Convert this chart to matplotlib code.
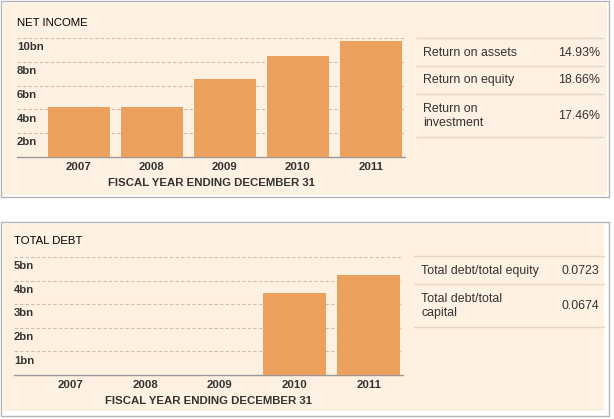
import numpy as np
import matplotlib
matplotlib.use('Agg')
import matplotlib.pyplot as plt
from matplotlib.patches import Rectangle
from matplotlib.lines import Line2D

plt.rcParams['font.family'] = ['Liberation Sans', 'DejaVu Sans']

years = ['2007', '2008', '2009', '2010', '2011']
net_income = [4.2, 4.2, 6.55, 8.5, 9.75]
total_debt = [0, 0, 0, 3.47, 4.24]
income_ticks = [2, 4, 6, 8, 10]
debt_ticks = [1, 2, 3, 4, 5]

income_rows = ['Return on assets', 'Return on equity', 'Return on\ninvestment']
income_vals = ['14.93%', '18.66%', '17.46%']
debt_rows = ['Total debt/total equity', 'Total debt/total\ncapital']
debt_vals = ['0.0723', '0.0674']

W, H = 614, 419
CREAM = '#fff1e2'
BAR = '#eca05e'
TXT = '#333333'

fig = plt.figure(figsize=(W / 100, H / 100), dpi=100)
fig.patch.set_facecolor('white')


def fx(x):
    return x / W


def fy(y):
    return 1 - y / H


def box(x0, y0, x1, y1, **kw):
    fig.add_artist(Rectangle((fx(x0), fy(y1)), fx(x1) - fx(x0), fy(y0) - fy(y1),
                             transform=fig.transFigure, zorder=-5, **kw))


def hline(x0, x1, y, color='#e3d7c7'):
    fig.add_artist(Line2D([fx(x0), fx(x1)], [fy(y), fy(y)], transform=fig.transFigure,
                          color=color, lw=1, zorder=-4))


def chart(top, base, left, right, values, ticks, title, title_xy, xlim, xlab_pad):
    ax = fig.add_axes([fx(left), fy(base), fx(right) - fx(left), fy(top) - fy(base)])
    ax.set_facecolor('none')
    x = np.arange(len(years))
    ax.bar(x, values, width=0.85, color=BAR, zorder=3)
    ax.set_ylim(0, ticks[-1])
    ax.set_xlim(*xlim)
    for t in ticks:
        ax.axhline(t, color='#c8c0b4', lw=0.8, ls=(0, (3, 2)), zorder=1)
        ax.annotate(f'{t}bn', xy=(0, t), xycoords=('axes fraction', 'data'),
                    xytext=(0, -3), textcoords='offset points', ha='left', va='top',
                    fontsize=8.2, fontweight='bold', color=TXT)
    for s in ['top', 'right', 'left']:
        ax.spines[s].set_visible(False)
    ax.spines['bottom'].set_color('#999999')
    ax.spines['bottom'].set_linewidth(1)
    ax.set_yticks([])
    ax.set_xticks(x, years)
    ax.tick_params(axis='x', length=0, pad=3.6, labelsize=8.2, labelcolor=TXT)
    for lab in ax.get_xticklabels():
        lab.set_fontweight('bold')
    ax.set_xlabel('FISCAL YEAR ENDING DECEMBER 31', fontsize=8.2, fontweight='bold',
                  color=TXT, labelpad=xlab_pad)
    fig.text(fx(title_xy[0]), fy(title_xy[1]), title, fontsize=8.2, color='black',
             ha='left', va='center')
    return ax


# panel 1
box(1, 1, 609, 197, facecolor='white', edgecolor='#b4b4b4', lw=1)
box(3, 3, 607, 195, facecolor=CREAM, edgecolor='none')
chart(38, 157, 17, 405, net_income, income_ticks, 'NET INCOME', (17, 23),
      (-0.85, 4.47), 4.2)

for yl in [38, 66, 94, 137]:
    hline(417, 603, yl)
for label, val, yc in zip(income_rows, income_vals, [53, 80, 116]):
    fig.text(fx(423), fy(yc), label, fontsize=8.9, color=TXT, ha='left', va='center',
             linespacing=1.15)
    fig.text(fx(600), fy(yc), val, fontsize=8.9, color=TXT, ha='right', va='center')

# panel 2
box(1, 222, 609, 416, facecolor='white', edgecolor='#b4b4b4', lw=1)
box(3, 224, 604, 411, facecolor=CREAM, edgecolor='none')
chart(257, 375, 14, 403, total_debt, debt_ticks, 'TOTAL DEBT', (14, 241),
      (-0.765, 4.46), 4.2)

for yl in [256, 284, 327]:
    hline(414, 604, yl)
for label, val, yc in zip(debt_rows, debt_vals, [271, 306]):
    fig.text(fx(421), fy(yc), label, fontsize=8.9, color=TXT, ha='left', va='center',
             linespacing=1.15)
    fig.text(fx(599), fy(yc), val, fontsize=8.9, color=TXT, ha='right', va='center')

fig.savefig('out.png', dpi=100)
